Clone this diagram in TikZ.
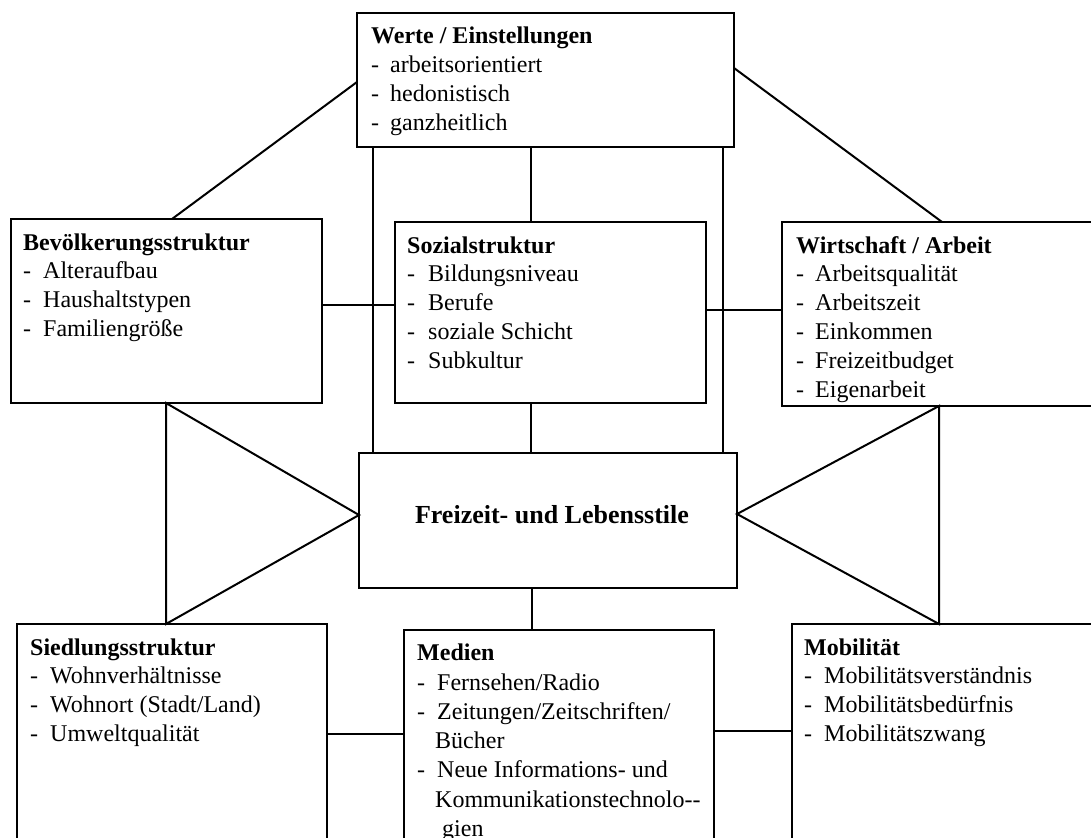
\documentclass[tikz,border=0pt]{standalone}
\usepackage{fontspec}
\setmainfont{Liberation Serif}
\usetikzlibrary{calc}
\begin{document}
\begin{tikzpicture}[x=1pt,y=-1pt,
  box/.style={draw, line width=2pt, rectangle, anchor=north west, inner sep=0pt, outer sep=0pt},
  ttl/.style={anchor=base west, inner sep=0pt, font=\fontsize{24}{28.8}\selectfont\bfseries},
  itm/.style={anchor=base west, inner sep=0pt, font=\fontsize{24}{28.8}\selectfont},
  bigttl/.style={anchor=base, inner sep=0pt, font=\fontsize{26}{30}\selectfont\bfseries},
  conn/.style={line width=2pt, line join=miter}]
\useasboundingbox (0,0) rectangle (1091,837);
\clip (0,0) rectangle (1091,837);

% boxes
\node[box, minimum width=377pt, minimum height=134pt] (werte) at (357,13) {};
\node[box, minimum width=311pt, minimum height=184pt] (bev) at (11,219) {};
\node[box, minimum width=311pt, minimum height=181pt] (soz) at (395,222) {};
\node[box, minimum width=330pt, minimum height=184pt] (wir) at (782,222) {};
\node[box, minimum width=378pt, minimum height=135pt] (frz) at (359,453) {};
\node[box, minimum width=310pt, minimum height=260pt] (sie) at (17,624) {};
\node[box, minimum width=310pt, minimum height=260pt] (med) at (404,630) {};
\node[box, minimum width=330pt, minimum height=260pt] (mob) at (792,624) {};

% texts
\node[ttl] (werte-t) at ([xshift=14pt,yshift=-31pt]werte.north west) {Werte / Einstellungen};
\foreach \t [count=\i] in {arbeitsorientiert,hedonistisch,ganzheitlich}{
  \node[itm] (werte-d\i) at ([xshift=14pt,yshift={-31pt-28.8pt*\i}]werte.north west) {-};
  \node[itm] (werte-i\i) at ([xshift=33pt,yshift={-31pt-28.8pt*\i}]werte.north west) {\t};
}
\node[ttl] (bev-t) at ([xshift=12pt,yshift=-31pt]bev.north west) {Bevölkerungsstruktur};
\foreach \t [count=\i] in {Alteraufbau,Haushaltstypen,Familiengröße}{
  \node[itm] (bev-d\i) at ([xshift=12pt,yshift={-31pt-28.8pt*\i}]bev.north west) {-};
  \node[itm] (bev-i\i) at ([xshift=32pt,yshift={-31pt-28.8pt*\i}]bev.north west) {\t};
}
\node[ttl] (soz-t) at ([xshift=12pt,yshift=-31pt]soz.north west) {Sozialstruktur};
\foreach \t [count=\i] in {Bildungsniveau,Berufe,soziale Schicht,Subkultur}{
  \node[itm] (soz-d\i) at ([xshift=12pt,yshift={-31pt-28.8pt*\i}]soz.north west) {-};
  \node[itm] (soz-i\i) at ([xshift=33pt,yshift={-31pt-28.8pt*\i}]soz.north west) {\t};
}
\node[ttl] (wir-t) at ([xshift=14pt,yshift=-31pt]wir.north west) {Wirtschaft / Arbeit};
\foreach \t [count=\i] in {Arbeitsqualität,Arbeitszeit,Einkommen,Freizeitbudget,Eigenarbeit}{
  \node[itm] (wir-d\i) at ([xshift=14pt,yshift={-31pt-28.8pt*\i}]wir.north west) {-};
  \node[itm] (wir-i\i) at ([xshift=33pt,yshift={-31pt-28.8pt*\i}]wir.north west) {\t};
}
\node[bigttl] (frz-t) at ($(frz.north)+(4,70)$) {Freizeit- und Lebensstile};
\node[ttl] (sie-t) at ([xshift=13pt,yshift=-31pt]sie.north west) {Siedlungsstruktur};
\foreach \t [count=\i] in {Wohnverhältnisse,Wohnort (Stadt/Land),Umweltqualität}{
  \node[itm] (sie-d\i) at ([xshift=13pt,yshift={-31pt-28.8pt*\i}]sie.north west) {-};
  \node[itm] (sie-i\i) at ([xshift=33pt,yshift={-31pt-28.8pt*\i}]sie.north west) {\t};
}
\node[ttl] (med-t) at ([xshift=13pt,yshift=-30pt]med.north west) {Medien};
\node[itm] (med-d1) at ([xshift=13pt,yshift=-60pt]med.north west) {-};
\node[itm] (med-i1) at ([xshift=33pt,yshift=-60pt]med.north west) {Fernsehen/Radio};
\node[itm] (med-d2) at ([xshift=13pt,yshift=-89pt]med.north west) {-};
\node[itm] (med-i2) at ([xshift=33pt,yshift=-89pt]med.north west) {Zeitungen/Zeitschriften/};
\node[itm] (med-i3) at ([xshift=31pt,yshift=-118pt]med.north west) {Bücher};
\node[itm] (med-d4) at ([xshift=13pt,yshift=-147pt]med.north west) {-};
\node[itm] (med-i4) at ([xshift=33pt,yshift=-147pt]med.north west) {Neue Informations- und};
\node[itm] (med-i5) at ([xshift=31pt,yshift=-177pt]med.north west) {Kommunikationstechnolo-\kern0pt-};
\node[itm] (med-i6) at ([xshift=38pt,yshift=-206pt]med.north west) {gien};
\node[ttl] (mob-t) at ([xshift=12pt,yshift=-31pt]mob.north west) {Mobilität};
\foreach \t [count=\i] in {Mobilitätsverständnis,Mobilitätsbedürfnis,Mobilitätszwang}{
  \node[itm] (mob-d\i) at ([xshift=12pt,yshift={-31pt-28.8pt*\i}]mob.north west) {-};
  \node[itm] (mob-i\i) at ([xshift=32pt,yshift={-31pt-28.8pt*\i}]mob.north west) {\t};
}

% connectors
\draw[conn] ([yshift=-69pt]werte.north west) -- ([xshift=161pt]bev.north west);
\draw[conn] ([yshift=-55pt]werte.north east) -- ([xshift=160pt]wir.north west);
\draw[conn] ([xshift=16pt]werte.south west) -- ([xshift=16pt]werte.south west |- frz.north);
\draw[conn] ([xshift=-11pt]werte.south east) -- ([xshift=-11pt]werte.south east |- frz.north);
\draw[conn] ([xshift=136pt]soz.north west |- werte.south) -- ([xshift=136pt]soz.north west);
\draw[conn] ([xshift=136pt]soz.south west) -- ([xshift=136pt]soz.south west |- frz.north);
\draw[conn] ([yshift=-86pt]bev.north east) -- ([yshift=-86pt]bev.north east -| soz.west);
\draw[conn] ([yshift=-88pt]soz.north east) -- ([yshift=-88pt]soz.north east -| wir.west);
\draw[conn] ([xshift=155pt]bev.south west) -- ([yshift=-62pt]frz.north west) -- ([xshift=149pt]sie.north west) -- cycle;
\draw[conn] ([xshift=157pt]wir.south west) -- ([yshift=-61pt]frz.north east) -- ([xshift=147pt]mob.north west) -- cycle;
\draw[conn] ([xshift=128pt]med.north west |- frz.south) -- ([xshift=128pt]med.north west);
\draw[conn] ([yshift=-110pt]sie.north east) -- ([yshift=-110pt]sie.north east -| med.west);
\draw[conn] ([yshift=-101pt]med.north east) -- ([yshift=-101pt]med.north east -| mob.west);
\end{tikzpicture}
\end{document}
